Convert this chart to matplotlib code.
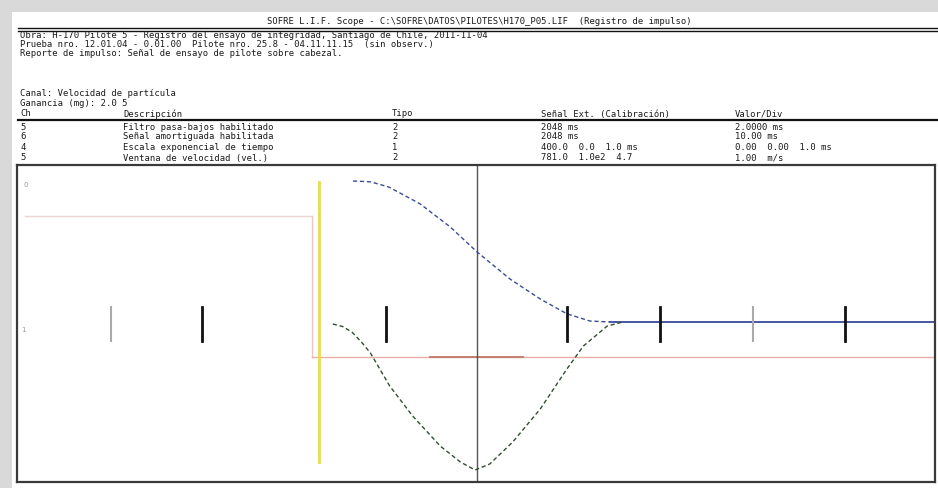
import matplotlib
matplotlib.use("Agg")
import matplotlib.pyplot as plt
from matplotlib.lines import Line2D
from matplotlib.patches import Rectangle

W, H = 938, 489

# header texts (Spanish report)
title = "SOFRE L.I.F. Scope - C:\\SOFRE\\DATOS\\PILOTES\\H170_P05.LIF  (Registro de impulso)"
info_lines = [
    "Obra: H-170 Pilote 5 - Registro del ensayo de integridad, Santiago de Chile, 2011-11-04",
    "Prueba nro. 12.01.04 - 0.01.00  Pilote nro. 25.8 - 04.11.11.15  (sin observ.)",
    "Reporte de impulso: Señal de ensayo de pilote sobre cabezal.",
]
channel_lines = ["Canal: Velocidad de partícula", "Ganancia (mg): 2.0 5"]
col_headers = ["Ch", "Descripción", "Tipo", "Señal Ext. (Calibración)", "Valor/Div"]
rows = [
    ["5", "Filtro pasa-bajos habilitado", "2", "2048 ms", "2.0000 ms"],
    ["6", "Señal amortiguada habilitada", "2", "2048 ms", "10.00 ms"],
    ["4", "Escala exponencial de tiempo", "1", "400.0  0.0  1.0 ms", "0.00  0.00  1.0 ms"],
    ["5", "Ventana de velocidad (vel.)", "2", "781.0  1.0e2  4.7", "1.00  m/s"],
]

# curves (x in divisions, y in divisions above baseline)
vel_x = [3.66, 3.85, 4.05, 4.39, 4.72, 5.01, 5.37, 5.70, 5.99, 6.24, 6.46]
vel_y = [4.40, 4.38, 4.25, 3.83, 3.25, 2.63, 1.95, 1.45, 1.08, 0.90, 0.875]
flat_x = [6.46, 10.0]
flat_y = [0.875, 0.875]
acc_x = [3.44, 3.55, 3.65, 3.75, 3.85, 4.06, 4.31, 4.61, 4.83, 4.99, 5.15, 5.40, 5.70, 5.99, 6.17, 6.43, 6.60]
acc_y = [0.825, 0.76, 0.62, 0.38, 0.10, -0.725, -1.475, -2.225, -2.625, -2.825, -2.675, -2.125, -1.3, -0.3, 0.275, 0.775, 0.875]

black_marks = [2.02, 4.02, 5.99, 7.0, 9.02]
gray_marks = [1.02, 8.02]
cursor_x = 5.01
trigger_x = 3.29
pulse_x = 3.21
pulse_level = 3.525


def fx(x):
    return x / W


def fy(y):
    return 1 - y / H


fig = plt.figure(figsize=(W / 100, H / 100), dpi=100, facecolor="#d9d9d9")
fig.patches.append(Rectangle((fx(12), 0), 1, fy(13), transform=fig.transFigure,
                             facecolor="white", edgecolor="none", zorder=-10))

mono = dict(family="DejaVu Sans Mono", fontsize=6.4, color="#1a1a1a", va="center")

fig.text(fx(479), fy(22), title, ha="center", **mono)
fig.add_artist(Line2D([fx(18), 1], [fy(29), fy(29)], color="#111111", lw=1.0, transform=fig.transFigure))
fig.add_artist(Line2D([fx(18), 1], [fy(31.5), fy(31.5)], color="#111111", lw=1.0, transform=fig.transFigure))

for y, s in zip([36, 44, 54], info_lines):
    fig.text(fx(20), fy(y), s, ha="left", **mono)
for y, s in zip([94, 104], channel_lines):
    fig.text(fx(20), fy(y), s, ha="left", **mono)

col_x = [20, 123, 392, 541, 735]
for x, s in zip(col_x, col_headers):
    fig.text(fx(x), fy(114), s, ha="left", **mono)
fig.add_artist(Line2D([fx(18), 1], [fy(121), fy(121)], color="#111111", lw=1.6, transform=fig.transFigure))
for y, row in zip([127, 137, 148, 158], rows):
    for x, s in zip(col_x, row):
        fig.text(fx(x), fy(y), s, ha="left", **mono)

ax = fig.add_axes([fx(17), 1 - 483 / H, 918 / W, 317 / H])
ax.set_xlim(0, 10)
ax.set_ylim(-3.125, 4.8)
ax.set_xticks([])
ax.set_yticks([])
for sp in ax.spines.values():
    sp.set_color("#3a3a3a")
    sp.set_linewidth(1.6)

# pulse / reference lines
ax.plot([0.09, pulse_x], [pulse_level, pulse_level], color="#ead6d0", lw=1)
ax.plot([pulse_x, pulse_x], [0, pulse_level], color="#e8c8c0", lw=1)
ax.plot([pulse_x, 10], [0, 0], color="#e6b0a4", lw=1)
ax.plot([4.5, 5.51], [0, 0], color="#c07868", lw=1.3)
ax.plot([trigger_x, trigger_x], [-2.625, 4.375], color="#e9dc50", lw=2)
ax.axvline(cursor_x, color="#555555", lw=1)

# traces
ax.plot(vel_x, vel_y, color="#3a4c96", lw=1, ls=(0, (3, 2)))
ax.plot(flat_x, flat_y, color="#4656a4", lw=1.4)
ax.plot(acc_x, acc_y, color="#2f4f2f", lw=1, ls=(0, (3, 2)))

# division markers
for x in black_marks:
    ax.plot([x, x], [0.4, 1.25], color="#111111", lw=2)
for x in gray_marks:
    ax.plot([x, x], [0.4, 1.25], color="#aaaaaa", lw=1.5)

ax.text(0.09, 4.33, "0", fontsize=5, color="#999999", ha="center", va="center")
ax.text(0.07, 0.7, "1", fontsize=5, color="#999999", ha="center", va="center")

fig.savefig("out.png", dpi=100, facecolor=fig.get_facecolor())
